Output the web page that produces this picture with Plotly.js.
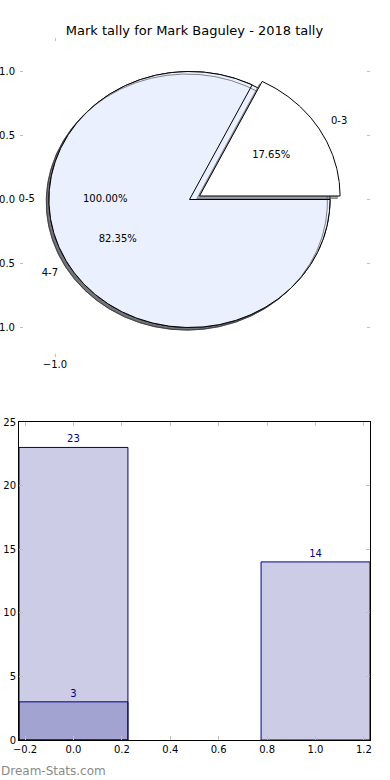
<!DOCTYPE html>
<html>
<head>
<meta charset="utf-8">
<script src="https://cdn.plot.ly/plotly-3.0.1.min.js"></script>
<style>html,body{margin:0;padding:0;background:#fff;}#chart{width:390px;height:780px;}</style>
</head>
<body>
<div id="chart"></div>
<script>
// ---- data ----
const chartTitle = 'Mark tally for Mark Baguley - 2018 tally';
const groupLabels = ['0-5'];
const groupValues = [23];
const bandLabels = ['0-3', '4-7'];
const bandValues = [3, 14];
const bandExplode = [0.1, 0];
const barX = [0, 1];
const barTotals = [23, 14];
const barSubX = [0];
const barSubValues = [3];
const barXTicks = [-0.2, 0, 0.2, 0.4, 0.6, 0.8, 1.0, 1.2];
const barYTicks = [0, 5, 10, 15, 20, 25];
const pieYTicks = [1, 0.5, 0, -0.5, -1];
const pieXTicks = [-1];
const watermark = 'Dream-Stats.com';

// ---- styling constants ----
const ASPECT = 1.045;          // horizontal stretch of the pie
const EXPLODE_DIR = [0.875, 0.52]; // how the explode offset is projected
const SH = [-0.02, -0.02];     // shadow offset
const FONT = 'DejaVu Sans';
const LIGHT = '#eaf0fd';
const NAVY = '#000080';
const TICKC = '#bfbfbf';

function wedge(cx, cy, a1, a2) {
  const xs = [], ys = [];
  const full = Math.abs(a2 - a1) >= 359.999;
  if (!full) { xs.push(cx); ys.push(cy); }
  const n = Math.max(8, Math.round(Math.abs(a2 - a1) * 2));
  for (let i = 0; i <= n; i++) {
    const t = (a1 + (a2 - a1) * i / n) * Math.PI / 180;
    xs.push(cx + ASPECT * Math.cos(t));
    ys.push(cy + Math.sin(t));
  }
  if (!full) { xs.push(cx); ys.push(cy); }
  return {x: xs, y: ys};
}

function pieGeom(values, explode) {
  const tot = values.reduce((a, b) => a + b, 0);
  let a = 0;
  return values.map((v, i) => {
    const span = v / tot * 360;
    const mid = (a + span / 2) * Math.PI / 180;
    const ex = explode ? explode[i] : 0;
    const g = {a1: a, a2: a + span, mid: mid, pct: v / tot * 100,
      cx: ex * EXPLODE_DIR[0] * Math.cos(mid), cy: ex * EXPLODE_DIR[1] * Math.sin(mid), ex: ex};
    a += span;
    return g;
  });
}

const g1 = pieGeom(groupValues, null);
const g2 = pieGeom(bandValues, bandExplode);

const traces = [];
function poly(w, dx, dy, fill, lineColor, lineW, fillMode) {
  traces.push({type: 'scatter', mode: 'lines', xaxis: 'x', yaxis: 'y',
    x: w.x.map(v => v + dx), y: w.y.map(v => v + dy),
    fill: fillMode || 'toself', fillcolor: fill,
    line: {color: lineColor, width: lineW}, hoverinfo: 'skip'});
}

// shadows of non-exploded wedges
g1.forEach(g => poly(wedge(g.cx, g.cy, g.a1, g.a2), SH[0], SH[1], 'rgba(70,72,76,0.5)', 'rgba(70,72,76,0.5)', 1));
g2.forEach(g => { if (!g.ex) poly(wedge(g.cx, g.cy, g.a1, g.a2), SH[0], SH[1], 'rgba(70,72,76,0.5)', 'rgba(70,72,76,0.5)', 1); });
// group pie
g1.forEach(g => poly(wedge(g.cx, g.cy, g.a1, g.a2), 0, 0, LIGHT, '#000', 1));
// band pie, non-exploded
g2.forEach(g => { if (!g.ex) poly(wedge(g.cx, g.cy, g.a1, g.a2), 0, 0, LIGHT, '#000', 1); });
// shadow edge showing through
g1.forEach(g => poly(wedge(g.cx, g.cy, g.a1, g.a2), SH[0], SH[1], 'rgba(0,0,0,0)', 'rgba(40,40,40,0.55)', 1, 'none'));
// exploded wedges
g2.forEach(g => { if (g.ex) {
  poly(wedge(g.cx, g.cy, g.a1, g.a2), SH[0], SH[1], 'rgba(77,77,77,0.5)', 'rgba(77,77,77,0.5)', 1);
  poly(wedge(g.cx, g.cy, g.a1, g.a2), 0, 0, '#ffffff', '#000', 1);
}});

// labels
function labelTraces(geom, labels) {
  geom.forEach((g, i) => {
    const lx = g.cx + 1.1 * ASPECT * Math.cos(g.mid), ly = g.cy + 1.1 * Math.sin(g.mid);
    traces.push({type: 'scatter', mode: 'text', xaxis: 'x', yaxis: 'y', x: [lx], y: [ly],
      text: [labels[i]], textposition: lx > 0 ? 'middle right' : 'middle left',
      textfont: {family: FONT, size: 10, color: '#000'}, hoverinfo: 'skip', cliponaxis: false});
    traces.push({type: 'scatter', mode: 'text', xaxis: 'x', yaxis: 'y',
      x: [g.cx + 0.6 * ASPECT * Math.cos(g.mid)], y: [g.cy + 0.6 * Math.sin(g.mid)],
      text: [g.pct.toFixed(2) + '%'], textposition: 'middle center',
      textfont: {family: FONT, size: 10, color: '#000'}, hoverinfo: 'skip', cliponaxis: false});
  });
}
labelTraces(g1, groupLabels);
labelTraces(g2, bandLabels);

// bars
const barStyle = {color: 'rgba(0,0,128,0.2)', line: {color: NAVY, width: 1}};
traces.push({type: 'bar', xaxis: 'x2', yaxis: 'y2', x: barX, y: barTotals, width: 0.45,
  marker: barStyle, text: barTotals.map(String), textposition: 'outside',
  textfont: {family: FONT, size: 10, color: NAVY}, cliponaxis: false, hoverinfo: 'skip'});
traces.push({type: 'bar', xaxis: 'x2', yaxis: 'y2', x: barSubX, y: barSubValues, width: 0.45,
  marker: barStyle, text: barSubValues.map(String), textposition: 'outside',
  textfont: {family: FONT, size: 10, color: NAVY}, cliponaxis: false, hoverinfo: 'skip'});

const H = 780, W = 390;
const pieAxCommon = {showgrid: false, zeroline: false, showline: false, ticks: 'inside', ticklen: 3,
  tickcolor: TICKC, tickwidth: 1, mirror: 'ticks', tickformat: '.1f', fixedrange: true,
  tickfont: {family: FONT, size: 10, color: '#000'}};
const barAxCommon = {showgrid: false, zeroline: false, showline: true, linecolor: '#000', linewidth: 1,
  ticks: 'inside', ticklen: 4, tickcolor: TICKC, tickwidth: 1, mirror: 'ticks', fixedrange: true,
  tickfont: {family: FONT, size: 10, color: '#000'}};

const layout = {
  width: W, height: H, margin: {l: 0, r: 0, t: 0, b: 0},
  paper_bgcolor: '#fff', plot_bgcolor: 'rgba(0,0,0,0)',
  showlegend: false, hovermode: false, barmode: 'overlay',
  font: {family: FONT, size: 10, color: '#000'},
  title: {text: chartTitle, x: 194.5 / W, xanchor: 'center', xref: 'paper',
    y: 1 - 30 / H, yanchor: 'middle', yref: 'paper', font: {family: FONT, size: 13, color: '#000'}},
  xaxis: Object.assign({}, pieAxCommon, {domain: [20 / W, 370 / W], range: [-1.2602, 1.342],
    tickvals: pieXTicks, anchor: 'y'}),
  yaxis: Object.assign({}, pieAxCommon, {domain: [1 - 357 / H, 1 - 38 / H], range: [-1.2305, 1.2617],
    tickvals: pieYTicks, anchor: 'x', ticklabelstandoff: 4}),
  xaxis2: Object.assign({}, barAxCommon, {domain: [19 / W, 370 / W], range: [-0.225, 1.225],
    tickvals: barXTicks, tickformat: '.1f', anchor: 'y2'}),
  yaxis2: Object.assign({}, barAxCommon, {domain: [1 - 740 / H, 1 - 422 / H], range: [0, 25],
    tickvals: barYTicks, tickformat: 'd', anchor: 'x2'}),
  annotations: [{text: watermark, xref: 'paper', yref: 'paper', x: 0, xanchor: 'left', xshift: -1,
    y: 1 - 771 / H, yanchor: 'middle', showarrow: false,
    font: {family: FONT, size: 12, color: '#8a8a8a'}}]
};

Plotly.newPlot('chart', traces, layout, {staticPlot: true, displayModeBar: false});
</script>
</body>
</html>
